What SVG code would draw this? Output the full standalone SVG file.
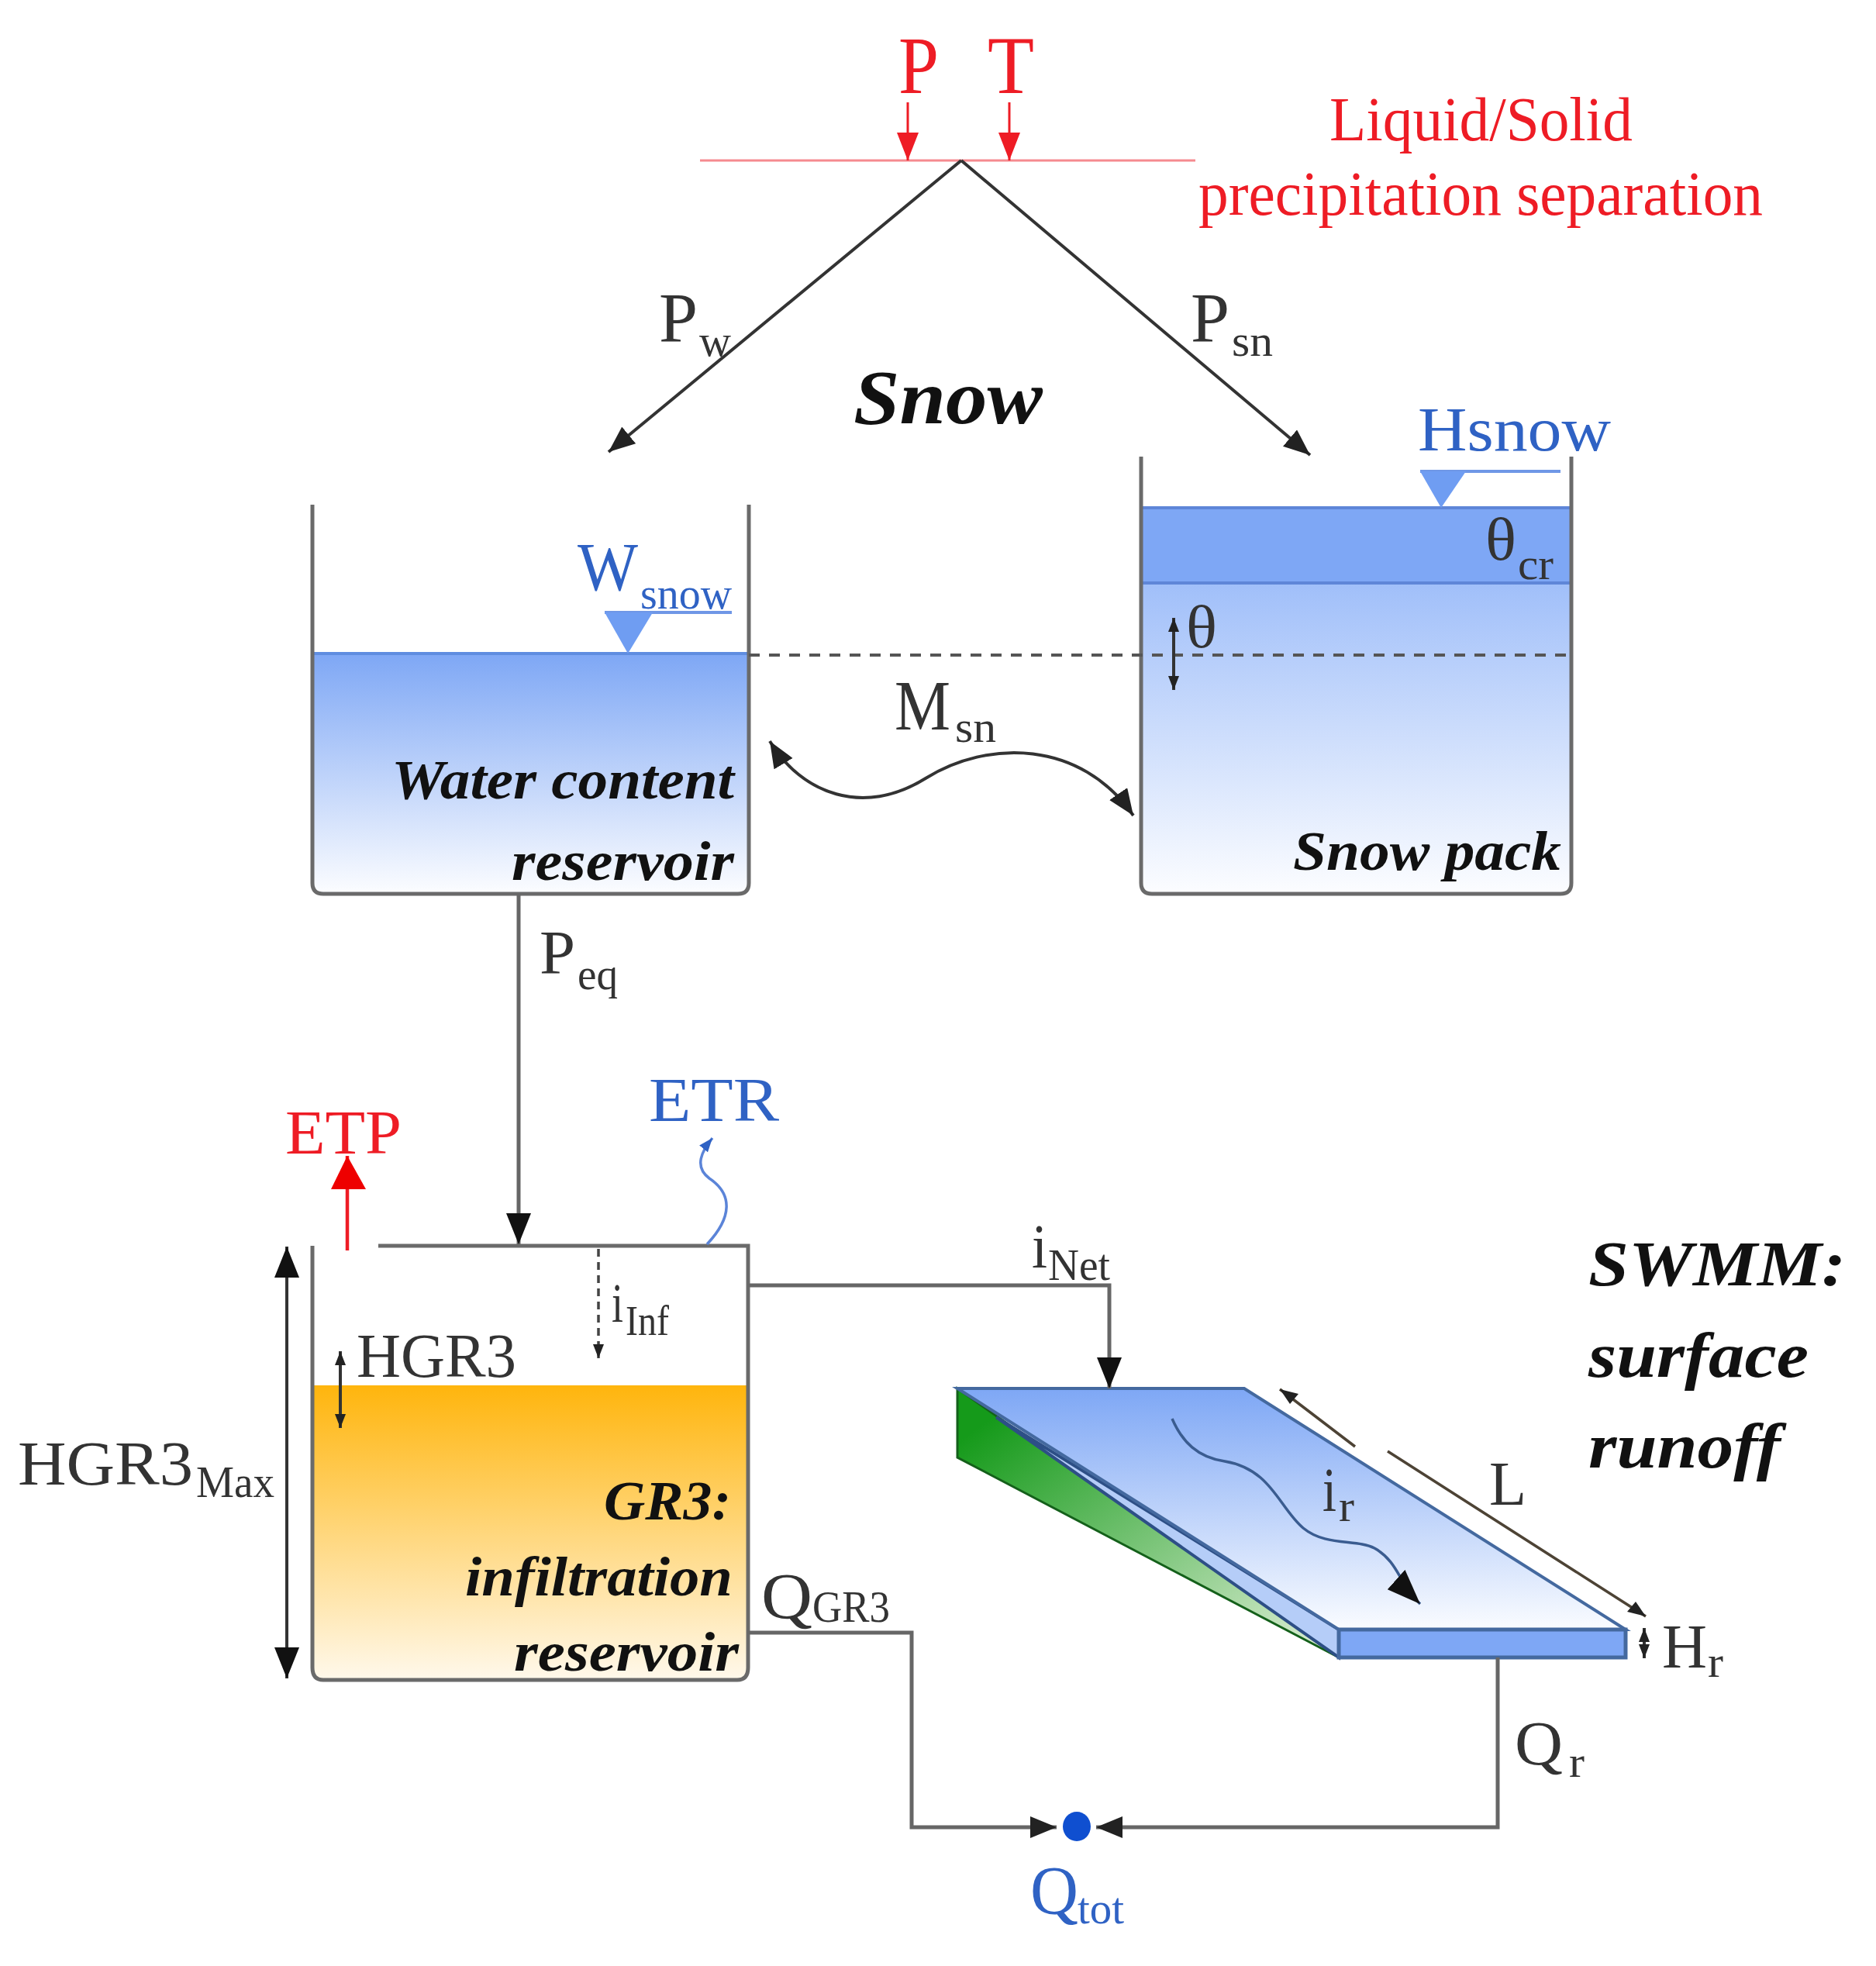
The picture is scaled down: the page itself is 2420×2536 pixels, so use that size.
<svg xmlns="http://www.w3.org/2000/svg" width="2420" height="2536" viewBox="0 0 2420 2536">
<style>
text{font-family:"Liberation Serif","Times New Roman",serif;fill:#333}
.red{fill:#ee1c25}
.blue{fill:#2f62c4}
.title{font-weight:bold;font-style:italic;fill:#111}
.l{font-size:92px}
.s{font-size:58px}
.wall{fill:none;stroke:#6a6a6a;stroke-width:5}
.con{fill:none;stroke:#666;stroke-width:5}
.dark{fill:none;stroke:#333;stroke-width:4}
</style>
<defs>
<linearGradient id="gW" x1="0" y1="0" x2="0" y2="1"><stop offset="0" stop-color="#7ea7f5"/><stop offset="1" stop-color="#fcfdff"/></linearGradient>
<linearGradient id="gS" x1="0" y1="0" x2="0" y2="1"><stop offset="0" stop-color="#8ab0f8"/><stop offset="1" stop-color="#fcfdff"/></linearGradient>
<linearGradient id="gO" x1="0" y1="0" x2="0" y2="1"><stop offset="0" stop-color="#ffb50d"/><stop offset="1" stop-color="#fff8ea"/></linearGradient>
<linearGradient id="gT" x1="0" y1="0" x2="0" y2="1"><stop offset="0" stop-color="#7ea7f5"/><stop offset="1" stop-color="#fafcff"/></linearGradient>
<linearGradient id="gG" x1="0" y1="0" x2="1" y2="1"><stop offset="0.1" stop-color="#159a1a"/><stop offset="0.95" stop-color="#d8ecd0"/></linearGradient>
<marker id="big" markerUnits="userSpaceOnUse" markerWidth="44" markerHeight="36" refX="40" refY="16" orient="auto-start-reverse"><path d="M0 0L40 16L0 32z" fill="#111"/></marker>
<marker id="mid" markerUnits="userSpaceOnUse" markerWidth="38" markerHeight="30" refX="34" refY="14" orient="auto-start-reverse"><path d="M0 0L34 14L0 28z" fill="#222"/></marker>
<marker id="redh" markerUnits="userSpaceOnUse" markerWidth="40" markerHeight="30" refX="36" refY="14" orient="auto"><path d="M0 0L36 14L0 28z" fill="#ee1c25"/></marker>
<marker id="small" markerUnits="userSpaceOnUse" markerWidth="20" markerHeight="14" refX="18" refY="7" orient="auto-start-reverse"><path d="M0 0L18 7L0 14z" fill="#222"/></marker>
<marker id="bluh" markerUnits="userSpaceOnUse" markerWidth="20" markerHeight="14" refX="18" refY="7" orient="auto"><path d="M0 0L18 7L0 14z" fill="#2f62c4"/></marker>
<marker id="flow" markerUnits="userSpaceOnUse" markerWidth="48" markerHeight="36" refX="44" refY="20" orient="auto"><path d="M0 0L44 20L0 34z" fill="#111"/></marker>
</defs>

<g id="separation">
<path d="M903 207H1542" stroke="#f58a8f" stroke-width="3" fill="none"/>
<text x="1159" y="120" font-size="105" class="red" textLength="52" lengthAdjust="spacingAndGlyphs">P</text>
<text x="1274" y="120" font-size="105" class="red" textLength="60" lengthAdjust="spacingAndGlyphs">T</text>
<text x="1715" y="181" font-size="80" class="red" textLength="391" lengthAdjust="spacingAndGlyphs">Liquid/Solid</text>
<text x="1546" y="277" font-size="80" class="red" textLength="728" lengthAdjust="spacingAndGlyphs">precipitation separation</text>
</g>

<g id="snow-title"><text x="1101" y="546" font-size="100" class="title" textLength="244" lengthAdjust="spacingAndGlyphs">Snow</text></g>

<g id="water-reservoir">
<path d="M403 843H966V1139Q966 1153 952 1153H417Q403 1153 403 1139z" fill="url(#gW)"/>
<path d="M403 843H966" stroke="#5f8de0" stroke-width="4" fill="none"/>
<path class="wall" d="M403 651V1139Q403 1153 417 1153H952Q966 1153 966 1139V651"/>
<path d="M780 790H944" stroke="#6f97e6" stroke-width="4" fill="none"/>
<path d="M780 790H842L810 843z" fill="#6f9df2"/>
<text x="745" y="761" font-size="88" class="blue" textLength="78" lengthAdjust="spacingAndGlyphs">W</text>
<text x="826" y="785" font-size="58" class="blue" textLength="118" lengthAdjust="spacingAndGlyphs">snow</text>
<text x="505" y="1030" font-size="72" class="title" textLength="442" lengthAdjust="spacingAndGlyphs">Water content</text>
<text x="660" y="1135" font-size="72" class="title" textLength="287" lengthAdjust="spacingAndGlyphs">reservoir</text>
</g>

<g id="snow-pack">
<path d="M1472 655H2027V1139Q2027 1153 2013 1153H1486Q1472 1153 1472 1139z" fill="url(#gS)"/>
<rect x="1472" y="655" width="555" height="97" fill="#7ea7f5"/>
<path d="M1472 655H2027M1472 752H2027" stroke="#5f86d8" stroke-width="4" fill="none"/>
<path class="wall" d="M1472 589V1139Q1472 1153 1486 1153H2013Q2027 1153 2027 1139V589"/>
<path d="M1832 608H2013" stroke="#6f97e6" stroke-width="4" fill="none"/>
<path d="M1832 608H1891L1859 655z" fill="#6f9df2"/>
<text x="1829" y="581" font-size="80" class="blue" textLength="249" lengthAdjust="spacingAndGlyphs">Hsnow</text>
<text x="1916" y="722" font-size="78" textLength="40" lengthAdjust="spacingAndGlyphs">θ</text>
<text x="1958" y="747" font-size="58" textLength="46" lengthAdjust="spacingAndGlyphs">cr</text>
<text x="1530" y="835" font-size="78" textLength="40" lengthAdjust="spacingAndGlyphs">θ</text>
<text x="1668" y="1122" font-size="72" class="title" textLength="346" lengthAdjust="spacingAndGlyphs">Snow pack</text>
</g>

<g id="gr3-reservoir">
<path d="M403 1787H965V2151Q965 2165 951 2165H417Q403 2165 403 2151z" fill="url(#gO)"/>
<path class="wall" d="M488 1607H965V2151Q965 2167 951 2167H417Q403 2167 403 2151V1607"/>
<text x="460" y="1776" font-size="80" textLength="206" lengthAdjust="spacingAndGlyphs">HGR3</text>
<text x="23" y="1915" font-size="80" textLength="226" lengthAdjust="spacingAndGlyphs">HGR3</text>
<text x="253" y="1931" font-size="58" textLength="101" lengthAdjust="spacingAndGlyphs">Max</text>
<text x="779" y="1960" font-size="72" class="title" textLength="164" lengthAdjust="spacingAndGlyphs">GR3:</text>
<text x="600" y="2058" font-size="72" class="title" textLength="345" lengthAdjust="spacingAndGlyphs">infiltration</text>
<text x="663" y="2155" font-size="72" class="title" textLength="290" lengthAdjust="spacingAndGlyphs">reservoir</text>
</g>

<g id="surface">
<path d="M1235 1791L1727 2138L1235 1880z" fill="url(#gG)" stroke="#14601a" stroke-width="3"/>
<path d="M1285 1828L1727 2102V2138z" fill="#b5cdf8" stroke="#2d4f86" stroke-width="4"/>
<path d="M1235 1791H1605L2097 2102H1727z" fill="url(#gT)" stroke="#44699f" stroke-width="4"/>
<rect x="1727" y="2102" width="370" height="36" fill="#7ea7f5" stroke="#44699f" stroke-width="5"/>
<text x="1706" y="1949" font-size="80" textLength="18" lengthAdjust="spacingAndGlyphs">i</text>
<text x="1727" y="1962" font-size="58" textLength="20" lengthAdjust="spacingAndGlyphs">r</text>
<text x="1921" y="1941" font-size="80" textLength="48" lengthAdjust="spacingAndGlyphs">L</text>
<text x="2144" y="2151" font-size="80" textLength="58" lengthAdjust="spacingAndGlyphs">H</text>
<text x="2203" y="2163" font-size="58" textLength="20" lengthAdjust="spacingAndGlyphs">r</text>
<text x="2049" y="1658" font-size="82" class="title" textLength="332" lengthAdjust="spacingAndGlyphs">SWMM:</text>
<text x="2049" y="1776" font-size="82" class="title" textLength="284" lengthAdjust="spacingAndGlyphs">surface</text>
<text x="2049" y="1893" font-size="82" class="title" textLength="248" lengthAdjust="spacingAndGlyphs">runoff</text>
</g>

<g id="outlet">
<ellipse cx="1389" cy="2356" rx="18" ry="19" fill="#0f4fd0"/>
<text x="1329" y="2468" font-size="88" class="blue" textLength="62" lengthAdjust="spacingAndGlyphs">Q</text>
<text x="1390" y="2481" font-size="58" class="blue" textLength="60" lengthAdjust="spacingAndGlyphs">tot</text>
</g>

<g id="connectors">
<path d="M1171 132V207" stroke="#ee1c25" stroke-width="3" fill="none" marker-end="url(#redh)"/>
<path d="M1302 132V207" stroke="#ee1c25" stroke-width="3" fill="none" marker-end="url(#redh)"/>
<path class="dark" d="M1240 207L785 583" marker-end="url(#mid)"/>
<path class="dark" d="M1240 207L1690 587" marker-end="url(#mid)"/>
<path d="M966 845H2027" fill="none" stroke="#555" stroke-width="4" stroke-dasharray="14 12"/>
<path class="dark" d="M1514 797V890" marker-start="url(#small)" marker-end="url(#small)"/>
<path class="dark" d="M993 956C1034 1024 1114 1054 1194 1004C1274 954 1394 954 1462 1052" marker-start="url(#mid)" marker-end="url(#mid)"/>
<path class="con" d="M669 1153V1605" marker-end="url(#big)"/>
<path d="M448 1613V1491" stroke="#ee1c25" stroke-width="4.5" fill="none"/>
<path d="M448 1491L472 1534H427z" fill="#ee0000"/>
<path d="M912 1605C945 1570 945 1540 915 1520C895 1505 905 1485 919 1468" fill="none" stroke="#5b84d8" stroke-width="3.5" marker-end="url(#bluh)"/>
<path d="M772 1611V1752" fill="none" stroke="#444" stroke-width="3.5" stroke-dasharray="10 7" marker-end="url(#small)"/>
<path class="dark" d="M439 1743V1842" marker-start="url(#small)" marker-end="url(#small)"/>
<path class="dark" d="M370 1608V2165" marker-start="url(#big)" marker-end="url(#big)"/>
<path class="con" d="M965 1658H1431V1791" marker-end="url(#big)"/>
<path d="M1512 1830C1525 1860 1545 1880 1580 1885C1640 1895 1650 1945 1681 1971C1710 1995 1750 1985 1773 1997C1805 2015 1805 2045 1832 2069" fill="none" stroke="#3a5c90" stroke-width="3.5" marker-end="url(#flow)"/>
<path d="M1651 1792L1748 1866M1790 1872L2123 2085" fill="none" stroke="#4d4335" stroke-width="3.5"/>
<path d="M1651 1792L1675 1798L1664 1811z" fill="#222"/>
<path d="M2123 2085L2099 2079L2110 2066z" fill="#222"/>
<path class="dark" d="M2121 2100V2139" stroke-width="5" marker-start="url(#small)" marker-end="url(#small)"/>
<path class="con" d="M965 2106H1176V2357H1363" marker-end="url(#mid)"/>
<path class="con" d="M1932 2138V2357H1414" marker-end="url(#mid)"/>
</g>

<g id="connector-labels">
<text x="850" y="441" class="l" textLength="50" lengthAdjust="spacingAndGlyphs">P</text>
<text x="902" y="459" class="s" textLength="41" lengthAdjust="spacingAndGlyphs">w</text>
<text x="1536" y="441" class="l" textLength="50" lengthAdjust="spacingAndGlyphs">P</text>
<text x="1589" y="459" class="s" textLength="53" lengthAdjust="spacingAndGlyphs">sn</text>
<text x="1154" y="941" class="l" textLength="72" lengthAdjust="spacingAndGlyphs">M</text>
<text x="1232" y="957" class="s" textLength="53" lengthAdjust="spacingAndGlyphs">sn</text>
<text x="696" y="1256" font-size="80" textLength="46" lengthAdjust="spacingAndGlyphs">P</text>
<text x="745" y="1276" class="s" textLength="52" lengthAdjust="spacingAndGlyphs">eq</text>
<text x="368" y="1488" font-size="80" class="red" textLength="150" lengthAdjust="spacingAndGlyphs">ETP</text>
<text x="837" y="1446" font-size="80" class="blue" textLength="168" lengthAdjust="spacingAndGlyphs">ETR</text>
<text x="789" y="1705" font-size="72" textLength="15" lengthAdjust="spacingAndGlyphs">i</text>
<text x="807" y="1722" font-size="54" textLength="56" lengthAdjust="spacingAndGlyphs">Inf</text>
<text x="1331" y="1635" font-size="80" textLength="20" lengthAdjust="spacingAndGlyphs">i</text>
<text x="1352" y="1651" class="s" textLength="80" lengthAdjust="spacingAndGlyphs">Net</text>
<text x="982" y="2088" font-size="84" textLength="66" lengthAdjust="spacingAndGlyphs">Q</text>
<text x="1048" y="2092" class="s" textLength="100" lengthAdjust="spacingAndGlyphs">GR3</text>
<text x="1954" y="2276" font-size="80" textLength="62" lengthAdjust="spacingAndGlyphs">Q</text>
<text x="2024" y="2292" class="s" textLength="20" lengthAdjust="spacingAndGlyphs">r</text>
</g>
</svg>
